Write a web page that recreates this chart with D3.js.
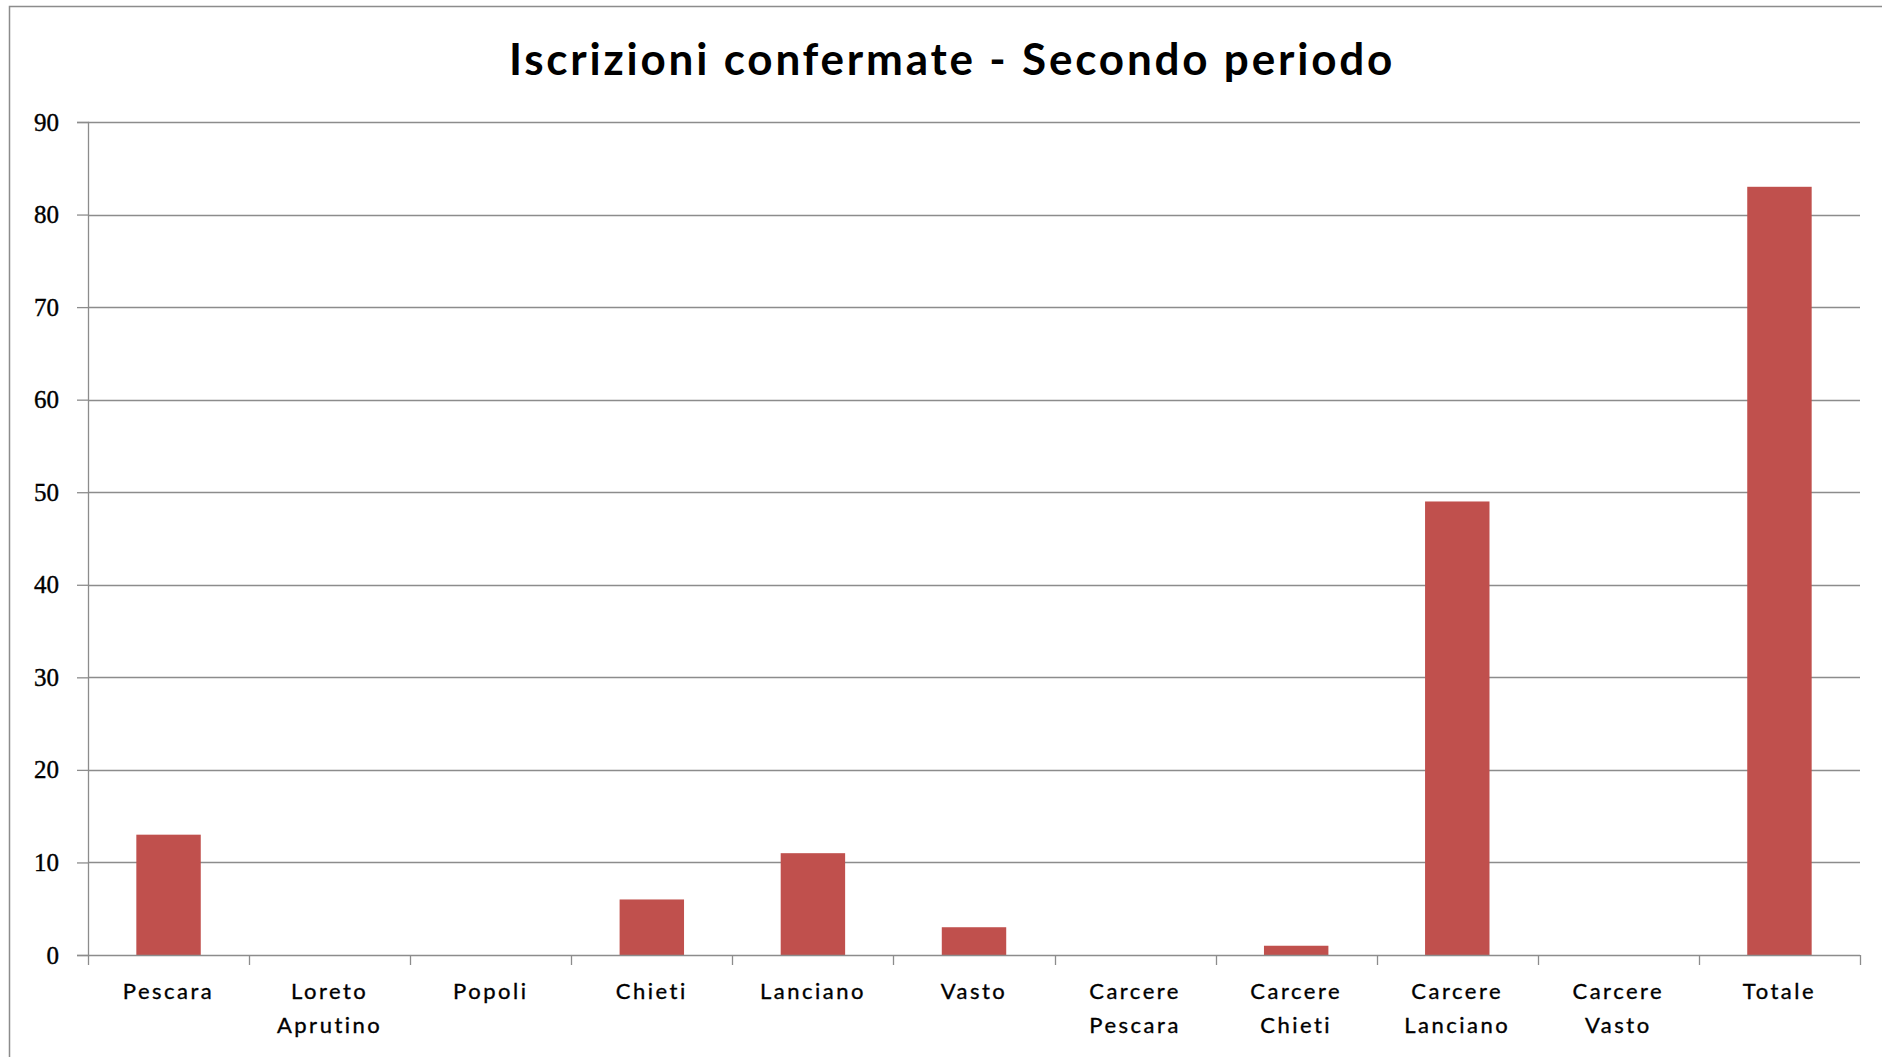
<!DOCTYPE html>
<html lang="it">
<head>
<meta charset="utf-8">
<title>Iscrizioni confermate - Secondo periodo</title>
<script src="https://d3js.org/d3.v7.min.js"></script>
<style>
  body { margin: 0; background: #fff; }
  svg { display: block; }
</style>
</head>
<body>
<div id="chart"></div>
<script>
// chart data
var categories = ["Pescara", "Loreto Aprutino", "Popoli", "Chieti", "Lanciano", "Vasto",
                  "Carcere Pescara", "Carcere Chieti", "Carcere Lanciano", "Carcere Vasto", "Totale"];
var values = [13, 0, 0, 6, 11, 3, 0, 1, 49, 0, 83];
var yTicks = [0, 10, 20, 30, 40, 50, 60, 70, 80, 90];
var title = "Iscrizioni confermate - Secondo periodo";

var W = 1882, H = 1057;
var margin = {top: 122, right: 22, bottom: 102, left: 88};

var svg = d3.select("#chart").append("svg")
    .attr("width", W)
    .attr("height", H);

// outer chart border
svg.append("rect")
    .attr("x", 9.5).attr("y", 6.5)
    .attr("width", W + 20).attr("height", H + 20)
    .attr("fill", "#fff")
    .attr("stroke", "#8c8c8c")
    .attr("stroke-width", 1.5);

var x = d3.scaleBand()
    .domain(categories)
    .range([margin.left, W - margin.right])
    .paddingInner(0.6)
    .paddingOuter(0.3);

var y = d3.scaleLinear()
    .domain([0, 90])
    .range([H - margin.bottom, margin.top]);

// gridlines
svg.append("g")
  .selectAll("line")
  .data(yTicks.filter(function(d) { return d > 0; }))
  .enter().append("line")
    .attr("x1", margin.left)
    .attr("x2", W - margin.right)
    .attr("y1", function(d) { return Math.round(y(d)) + 0.5; })
    .attr("y2", function(d) { return Math.round(y(d)) + 0.5; })
    .attr("stroke", "#8c8c8c")
    .attr("stroke-width", 1.3);

// bars
svg.append("g")
  .selectAll("rect")
  .data(values)
  .enter().append("rect")
    .attr("x", function(d, i) { return x(categories[i]); })
    .attr("width", x.bandwidth())
    .attr("y", function(d) { return y(d); })
    .attr("height", function(d) { return y(0) - y(d); })
    .attr("fill", "#C0504D");

// y axis
var yAxis = svg.append("g")
    .attr("transform", "translate(" + margin.left + ",0)")
    .call(d3.axisLeft(y).tickValues(yTicks).tickSize(11).tickPadding(18));
yAxis.selectAll("path, line").attr("stroke", "#8c8c8c").attr("stroke-width", 1.3);
yAxis.selectAll("text")
    .attr("fill", "#000")
    .attr("stroke", "#000")
    .attr("stroke-width", 0.4)
    .style("font-family", "'Liberation Serif', serif")
    .style("font-size", "25px");

// x axis: ticks on band boundaries
var step = x.step();
var bounds = d3.range(categories.length + 1).map(function(i) { return margin.left + i * step; });
svg.append("line")
    .attr("x1", margin.left).attr("x2", W - margin.right)
    .attr("y1", Math.round(y(0)) + 0.5).attr("y2", Math.round(y(0)) + 0.5)
    .attr("stroke", "#8c8c8c").attr("stroke-width", 1.5);
svg.append("g")
  .selectAll("line")
  .data(bounds)
  .enter().append("line")
    .attr("x1", function(d) { return Math.round(d) + 0.5; })
    .attr("x2", function(d) { return Math.round(d) + 0.5; })
    .attr("y1", y(0))
    .attr("y2", y(0) + 10)
    .attr("stroke", "#8c8c8c")
    .attr("stroke-width", 1.3);

// category labels (wrapped on two lines)
var labels = svg.append("g")
  .selectAll("text")
  .data(categories)
  .enter().append("text")
    .attr("x", function(d) { return x(d) + x.bandwidth() / 2; })
    .attr("y", y(0) + 44)
    .attr("text-anchor", "middle")
    .style("font-family", "Lato, 'Open Sans', sans-serif")
    .style("font-size", "22px")
    .style("letter-spacing", "2.5px")
    .attr("fill", "#000")
    .attr("stroke", "#000")
    .attr("stroke-width", 0.35);
labels.each(function(d) {
  var words = d.split(" ");
  var t = d3.select(this);
  words.forEach(function(w, i) {
    t.append("tspan")
      .attr("x", t.attr("x"))
      .attr("dy", i === 0 ? 0 : 34)
      .text(w);
  });
});

// title
svg.append("text")
    .attr("x", 952)
    .attr("y", 75)
    .attr("text-anchor", "middle")
    .style("font-family", "Lato, 'Open Sans', sans-serif")
    .style("font-weight", "bold")
    .style("font-size", "44px")
    .style("letter-spacing", "2.8px")
    .attr("fill", "#000")
    .text(title);
</script>
</body>
</html>
